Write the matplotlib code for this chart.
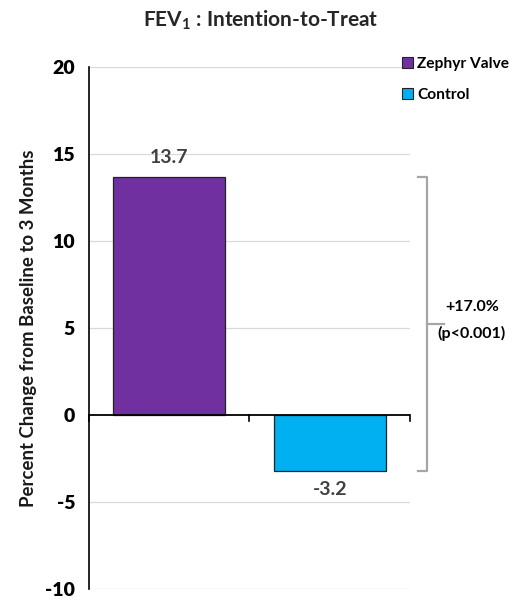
import matplotlib
matplotlib.use("Agg")
import matplotlib.pyplot as plt
from matplotlib.patches import Patch

categories = ["Zephyr Valve", "Control"]
values = [13.7, -3.2]
colors = ["#7030A0", "#00B0F0"]
yticks = [-10, -5, 0, 5, 10, 15, 20]
diff_label = "+17.0%\n(p<0.001)"

plt.rcParams['font.family'] = ['Lato', 'DejaVu Sans']
plt.rcParams['font.weight'] = 'bold'

fig = plt.figure(figsize=(5.17, 6.01), dpi=100)
ax = fig.add_axes([0.172, 0.020, 0.621, 0.8685])

x = [0.5, 1.5]
bars = ax.bar(x, values, width=0.70, color=colors, edgecolor="#222222", linewidth=0.9, zorder=3)
ax.set_xlim(0, 2)
ax.set_ylim(-10, 20)
ax.set_yticks(yticks)
ax.set_yticklabels([str(t) for t in yticks], fontsize=14, fontweight='heavy')
for t in yticks:
    if t != 0:
        ax.axhline(t, color="#d9d9d9", linewidth=0.9, zorder=1)
ax.axhline(0, color="black", linewidth=1.3, zorder=4)
for xt in [0, 1, 2]:
    ax.plot([xt, xt], [0, -0.35], color="black", linewidth=1.2, zorder=4, clip_on=False)

for s in ["top", "right", "bottom"]:
    ax.spines[s].set_visible(False)
ax.spines["left"].set_linewidth(1.2)
ax.tick_params(axis='y', length=0, pad=10)
ax.tick_params(axis='x', length=0, labelbottom=False)

ax.set_ylabel("Percent Change from Baseline to 3 Months", fontsize=13.4, fontweight='bold',
              labelpad=6, color="#1a1a1a")

# data labels
ax.text(x[0], values[0] + 0.6, f"{values[0]:.1f}", ha='center', va='bottom', fontsize=14,
        fontweight='bold', color="#404040")
ax.text(x[1], values[1] - 0.6, f"{values[1]:.1f}", ha='center', va='top', fontsize=14,
        fontweight='bold', color="#404040")

# bracket
bx = 2.105
hook = 0.055
ax.plot([bx - hook, bx, bx, bx - hook], [values[0], values[0], values[1], values[1]],
        color="#a6a6a6", linewidth=1.6, clip_on=False, zorder=5)
mid = (values[0] + values[1]) / 2
ax.plot([bx, bx + 0.11], [mid, mid], color="#a6a6a6", linewidth=1.6, clip_on=False, zorder=5)
ax.text(2.385, mid + 0.55, diff_label.split("\n")[0], ha='center', va='bottom', fontsize=11.5,
        fontweight='bold', color="black", clip_on=False)
ax.text(2.385, mid - 0.15, diff_label.split("\n")[1], ha='center', va='top', fontsize=11.5,
        fontweight='bold', color="black", clip_on=False)

# legend
handles = [Patch(facecolor=c, edgecolor="#222222", linewidth=0.8) for c in colors]
leg = fig.legend(handles, categories, loc='upper left', bbox_to_anchor=(0.765, 0.915),
                 frameon=False, fontsize=11.2, handlelength=0.7, handleheight=0.7,
                 handletextpad=0.3, labelspacing=1.05, borderaxespad=0)

fig.text(0.505, 0.967, r"FEV$_\mathregular{1}$ : Intention-to-Treat", ha='center', va='center',
         fontsize=15, fontweight='bold', color="#262626")

fig.savefig("out.png", dpi=100)
